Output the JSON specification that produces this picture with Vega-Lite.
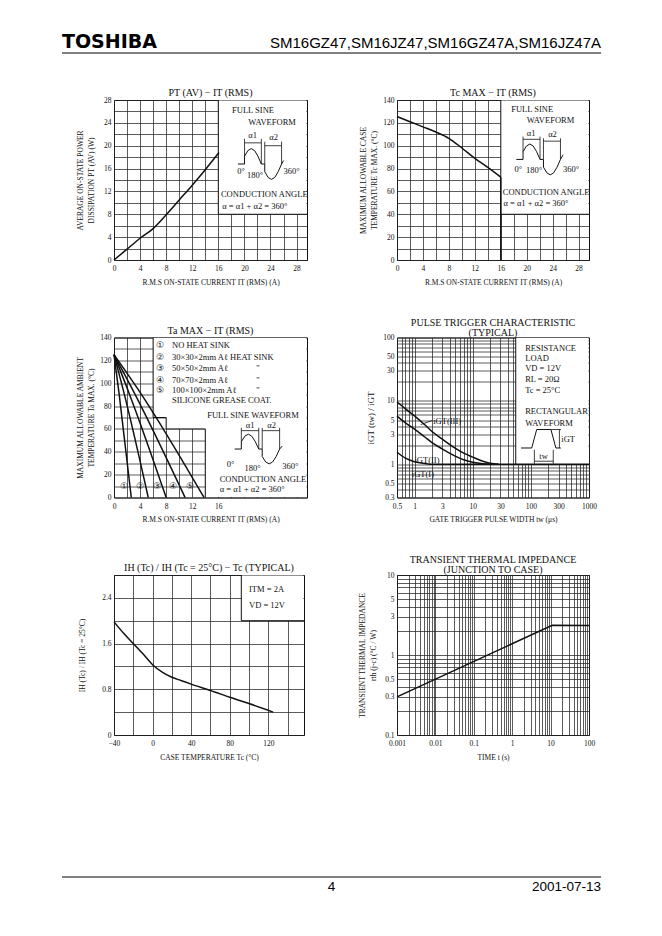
{
"$schema": "https://vega.github.io/schema/vega-lite/v6.json",
"background": "white",
"padding": {"left": 61, "top": 31, "right": 5, "bottom": 5},
"autosize": {"type": "pad"},
"config": {
 "font": "Liberation Serif",
 "view": {"stroke": "#111", "strokeWidth": 1},
 "axis": {"grid": true, "gridColor": "#262626", "gridWidth": 0.75, "ticks": false, "domain": false, "labelFont": "Liberation Serif", "labelFontSize": 7.5, "labelColor": "#111", "labelPadding": 3, "labelFlush": false, "labelOverlap": false, "titleFont": "Liberation Serif", "titleFontSize": 7.5, "titleFontWeight": "normal", "titleColor": "#111", "titleLineHeight": 11},
 "axisX": {"titlePadding": 6, "labelPadding": 4.5},
 "axisY": {"titlePadding": 7},
 "title": {"font": "Liberation Serif", "fontSize": 10, "fontWeight": "normal", "color": "#111", "offset": -2, "anchor": "middle", "lineHeight": 10},
 "text": {"font": "Liberation Serif", "fontSize": 8.5, "align": "left", "baseline": "middle", "color": "#111"},
 "line": {"color": "#111", "strokeWidth": 1.3},
 "rule": {"color": "#111", "strokeWidth": 0.8},
 "rect": {"color": "white"}
},
"datasets": {
 "c1box": [{"x":16,"x2":29.5,"y":8,"y2":27.9}],
 "c1edge": [{"x":16,"y":28},{"x":16,"y":8},{"x":29.6,"y":8}],
 "c1curve": [{"x":0,"y":0},{"x":2,"y":1.9},{"x":4,"y":3.8},{"x":6,"y":5.5},{"x":8,"y":7.9},{"x":10,"y":10.5},{"x":12,"y":13.1},{"x":14,"y":15.8},{"x":16.1,"y":18.8}],
 "c1wave": [{"x":19.0,"y":16.8},{"x":20.02,"y":16.8},{"x":20.02,"y":18.15},{"x":20.53,"y":19.14},{"x":21.05,"y":19.5},{"x":21.57,"y":19.14},{"x":22.08,"y":18.15},{"x":22.6,"y":16.8},{"x":23.12,"y":16.8},{"x":23.12,"y":15.45},{"x":23.63,"y":14.46},{"x":24.15,"y":14.1},{"x":24.67,"y":14.46},{"x":25.18,"y":15.45},{"x":25.7,"y":16.8},{"x":26.0,"y":17.4}],
 "c1rules": [{"x":20.02,"y":18.15,"x2":20.02,"y2":21.2},{"x":22.6,"y":16.8,"x2":22.6,"y2":21.2},{"x":20.02,"y":20.5,"x2":22.6,"y2":20.5},{"x":23.12,"y":16.8,"x2":23.12,"y2":20.7},{"x":25.7,"y":16.8,"x2":25.7,"y2":20.7},{"x":23.12,"y":20.0,"x2":25.7,"y2":20.0}],
 "c1text": [{"x":18.1,"y":26.3,"t":"FULL SINE"},{"x":20.6,"y":24.2,"t":"WAVEFORM"},{"x":20.6,"y":21.9,"t":"α1"},{"x":23.8,"y":21.5,"t":"α2"},{"x":18.9,"y":15.6,"t":"0°"},{"x":20.4,"y":14.9,"t":"180°"},{"x":26.0,"y":15.6,"t":"360°"},{"x":16.4,"y":11.6,"t":"CONDUCTION ANGLE"},{"x":16.6,"y":9.5,"t":"α = α1 + α2 = 360°"}],
 "c2box": [{"x":16,"x2":29.5,"y":40,"y2":139.5}],
 "c2edge": [{"x":16,"y":140},{"x":16,"y":40},{"x":29.6,"y":40}],
 "c2curve": [{"x":0,"y":125.5},{"x":2,"y":121},{"x":4,"y":116.5},{"x":6,"y":112},{"x":8,"y":106.5},{"x":10,"y":98},{"x":12,"y":89},{"x":14,"y":81},{"x":16,"y":72.5}],
 "c2limit": [{"x":16,"y":0,"x2":16,"y2":72.5}],
 "c2wave": [{"x":18.4,"y":88},{"x":19.43,"y":88},{"x":19.43,"y":94.75},{"x":19.95,"y":99.7},{"x":20.48,"y":101.5},{"x":21.0,"y":99.7},{"x":21.53,"y":94.75},{"x":22.05,"y":88},{"x":22.58,"y":88},{"x":22.58,"y":81.25},{"x":23.1,"y":76.3},{"x":23.63,"y":74.5},{"x":24.15,"y":76.3},{"x":24.68,"y":81.25},{"x":25.2,"y":88},{"x":25.6,"y":92}],
 "c2rules": [{"x":19.43,"y":94.75,"x2":19.43,"y2":108},{"x":22.05,"y":88,"x2":22.05,"y2":108},{"x":19.43,"y":105.6,"x2":22.05,"y2":105.6},{"x":22.58,"y":88,"x2":22.58,"y2":106.5},{"x":25.2,"y":88,"x2":25.2,"y2":106.5},{"x":22.58,"y":104,"x2":25.2,"y2":104}],
 "c2text": [{"x":17.6,"y":132.4,"t":"FULL SINE"},{"x":20.0,"y":122.5,"t":"WAVEFORM"},{"x":20.0,"y":111,"t":"α1"},{"x":23.3,"y":110,"t":"α2"},{"x":18.1,"y":80,"t":"0°"},{"x":19.9,"y":79,"t":"180°"},{"x":25.6,"y":80,"t":"360°"},{"x":16.3,"y":59.7,"t":"CONDUCTION ANGLE"},{"x":16.4,"y":50.3,"t":"α = α1 + α2 = 360°"}],
 "c3box": [{"x":6,"x2":29.5,"y":70,"y2":139.5},{"x":8,"x2":29.5,"y":60,"y2":71},{"x":14,"x2":29.5,"y":0.5,"y2":61}],
 "c3edge": [{"x":6,"y":140},{"x":6,"y":70},{"x":8,"y":70},{"x":8,"y":60},{"x":14,"y":60},{"x":14,"y":0}],
 "c3curves": [
  {"s":1,"x":0,"y":125},{"s":1,"x":0.8,"y":90},{"s":1,"x":2.65,"y":0},
  {"s":2,"x":0,"y":125},{"s":2,"x":1.6,"y":90},{"s":2,"x":5.25,"y":0},
  {"s":3,"x":0,"y":125},{"s":3,"x":2.4,"y":90},{"s":3,"x":8.0,"y":0},
  {"s":4,"x":0,"y":125},{"s":4,"x":3.25,"y":90},{"s":4,"x":10.9,"y":0},
  {"s":5,"x":0,"y":125},{"s":5,"x":4.0,"y":92},{"s":5,"x":13.8,"y":0}],
 "c3wave": [{"x":18.5,"y":42.4},{"x":19.53,"y":42.4},{"x":19.53,"y":48.9},{"x":20.07,"y":53.7},{"x":20.6,"y":55.4},{"x":21.13,"y":53.7},{"x":21.67,"y":48.9},{"x":22.2,"y":42.4},{"x":22.73,"y":42.4},{"x":22.73,"y":35.9},{"x":23.27,"y":31.1},{"x":23.8,"y":29.4},{"x":24.33,"y":31.1},{"x":24.87,"y":35.9},{"x":25.4,"y":42.4},{"x":25.8,"y":45}],
 "c3rules": [{"x":19.53,"y":48.9,"x2":19.53,"y2":61},{"x":22.2,"y":42.4,"x2":22.2,"y2":61},{"x":19.53,"y":58.5,"x2":22.2,"y2":58.5},{"x":22.73,"y":42.4,"x2":22.73,"y2":61},{"x":25.4,"y":42.4,"x2":25.4,"y2":61},{"x":22.73,"y":58.5,"x2":25.4,"y2":58.5}],
 "c3text": [{"x":14.3,"y":72.5,"t":"FULL SINE WAVEFORM"},{"x":20.2,"y":63.5,"t":"α1"},{"x":23.5,"y":63.5,"t":"α2"},{"x":17.3,"y":29.2,"t":"0°"},{"x":20.0,"y":26.2,"t":"180°"},{"x":25.8,"y":27.5,"t":"360°"},{"x":16.2,"y":16.4,"t":"CONDUCTION ANGLE"},{"x":16.2,"y":7.6,"t":"α = α1 + α2 = 360°"},
  {"x":6.5,"y":133.6,"t":"①"},{"x":8.9,"y":133.6,"t":"NO HEAT SINK"},
  {"x":6.5,"y":123.3,"t":"②"},{"x":8.9,"y":123.3,"t":"30×30×2mm Aℓ HEAT SINK"},
  {"x":6.5,"y":113.6,"t":"③"},{"x":8.9,"y":113.6,"t":"50×50×2mm Aℓ"},{"x":21.8,"y":113.6,"t":"\""},
  {"x":6.5,"y":103.1,"t":"④"},{"x":8.9,"y":103.1,"t":"70×70×2mm Aℓ"},{"x":21.8,"y":103.1,"t":"\""},
  {"x":6.5,"y":93.7,"t":"⑤"},{"x":8.9,"y":93.7,"t":"100×100×2mm Aℓ"},{"x":21.8,"y":93.7,"t":"\""},
  {"x":8.9,"y":84.9,"t":"SILICONE GREASE COAT."},
  {"x":0.9,"y":9.7,"t":"①"},{"x":3.4,"y":9.7,"t":"②"},{"x":6.0,"y":9.7,"t":"③"},{"x":8.45,"y":9.7,"t":"④"},{"x":11.05,"y":9.7,"t":"⑤"}],
 "c4box": [{"x":55,"x2":977,"y":1,"y2":98}],
 "c4edge": [{"x":55,"y":100},{"x":55,"y":1}],
 "c4curves": [
  {"s":"III","x":0.5,"y":9.7},{"s":"III","x":0.7,"y":7.5},{"s":"III","x":1,"y":5.8},{"s":"III","x":1.5,"y":4.2},{"s":"III","x":2,"y":3.3},{"s":"III","x":3,"y":2.5},{"s":"III","x":5,"y":1.8},{"s":"III","x":7,"y":1.5},{"s":"III","x":10,"y":1.3},{"s":"III","x":15,"y":1.12},{"s":"III","x":20,"y":1.04},{"s":"III","x":28,"y":1.0},
  {"s":"II","x":0.5,"y":5.75},{"s":"II","x":0.7,"y":4.5},{"s":"II","x":1,"y":3.6},{"s":"II","x":1.5,"y":2.7},{"s":"II","x":2,"y":2.2},{"s":"II","x":3,"y":1.75},{"s":"II","x":5,"y":1.35},{"s":"II","x":7,"y":1.18},{"s":"II","x":10,"y":1.08},{"s":"II","x":15,"y":1.02},{"s":"II","x":20,"y":1.0},
  {"s":"I","x":0.5,"y":1.55},{"s":"I","x":0.7,"y":1.25},{"s":"I","x":1,"y":1.1},{"s":"I","x":1.5,"y":1.03},{"s":"I","x":2,"y":1.0},{"s":"I","x":1000,"y":1.0}],
 "c4wave": [{"x":68,"y":1.81},{"x":103.6,"y":1.81},{"x":126,"y":3.54},{"x":221.6,"y":3.54},{"x":269.5,"y":1.81},{"x":328,"y":1.81}],
 "c4rules": [{"x":115,"y":1.02,"x2":115,"y2":1.7},{"x":243,"y":1.02,"x2":243,"y2":1.7},{"x":115,"y":1.12,"x2":243,"y2":1.12},{"x":221.6,"y":3.54,"x2":330,"y2":3.54},{"x":310,"y":1.81,"x2":310,"y2":3.54},{"x":1.28,"y":4.24,"x2":2.0,"y2":4.9}],
 "c4text": [{"x":80,"y":69,"t":"RESISTANCE"},{"x":80,"y":48,"t":"LOAD"},{"x":80,"y":33.5,"t":"VD = 12V"},{"x":80,"y":21.9,"t":"RL = 20Ω"},{"x":80,"y":14.7,"t":"Tc = 25°C"},{"x":80,"y":6.9,"t":"RECTANGULAR"},{"x":80,"y":4.5,"t":"WAVEFORM"},{"x":140,"y":1.34,"t":"tw"},{"x":335,"y":2.5,"t":"iGT"},{"x":2.1,"y":4.9,"t":"iGT(III)"},{"x":1.0,"y":1.16,"t":"iGT(II)"},{"x":0.9,"y":0.71,"t":"iGT(I)"}],
 "c5box": [{"x":92,"x2":156.3,"y":2.0,"y2":2.79}],
 "c5edge": [{"x":92,"y":2.8},{"x":92,"y":2.0},{"x":157,"y":2.0}],
 "c5curve": [{"x":-40,"y":1.98},{"x":-30,"y":1.78},{"x":-20,"y":1.6},{"x":-10,"y":1.42},{"x":0,"y":1.23},{"x":10,"y":1.1},{"x":20,"y":1.01},{"x":30,"y":0.95},{"x":40,"y":0.89},{"x":60,"y":0.78},{"x":80,"y":0.66},{"x":100,"y":0.55},{"x":125,"y":0.4}],
 "c5text": [{"x":100,"y":2.56,"t":"ITM = 2A"},{"x":100,"y":2.27,"t":"VD = 12V"}],
 "c6curve": [{"x":0.001,"y":0.3},{"x":11,"y":2.35},{"x":100,"y":2.33}]
},
"spacing": 115,
"vconcat": [
 {"spacing": 33, "vconcat": [
  {"width": 539, "height": 22, "view": {"stroke": null},
   "data": {"values": [{"brand": "TOSHIBA", "model": "SM16GZ47,SM16JZ47,SM16GZ47A,SM16JZ47A"}]},
   "layer": [
    {"mark": {"type": "text", "align": "left", "baseline": "alphabetic", "font": "DejaVu Sans", "fontWeight": "bold", "fontSize": 19, "color": "black"},
     "encoding": {"x": {"datum": 0, "type": "quantitative", "scale": {"domain": [0, 1]}, "axis": null}, "y": {"datum": 0.25, "type": "quantitative", "scale": {"domain": [0, 1]}, "axis": null}, "text": {"field": "brand"}}},
    {"mark": {"type": "text", "align": "right", "baseline": "alphabetic", "font": "Liberation Sans", "fontSize": 15, "color": "black"},
     "encoding": {"x": {"datum": 1, "type": "quantitative"}, "y": {"datum": 0.25, "type": "quantitative"}, "text": {"field": "model"}}},
    {"mark": {"type": "rule", "color": "black", "strokeWidth": 1},
     "encoding": {"x": {"datum": 0, "type": "quantitative"}, "x2": {"datum": 1}, "y": {"datum": 0, "type": "quantitative"}}}
   ]},
  {"spacing": 0, "hconcat": [
   {"width": 13, "height": 1, "view": {"stroke": null}, "data": {"values": [{"gap": 1}]},
    "mark": {"type": "rule", "color": "white", "strokeWidth": 0.5},
    "encoding": {"x": {"datum": 0, "type": "quantitative", "scale": {"domain": [0, 1]}, "axis": null}, "x2": {"datum": 1}, "y": {"datum": 0, "type": "quantitative", "scale": {"domain": [0, 1]}, "axis": null}}},
   {"bounds": "flush", "columns": 2, "spacing": {"row": 77.5, "column": 90}, "concat": [
    {"width": 193, "height": 160, "title": "PT (AV)  −  IT (RMS)",
     "encoding": {
      "x": {"field": "x", "type": "quantitative", "scale": {"domain": [0, 29.6], "nice": false, "zero": false}, "axis": {"values": [0,2,4,6,8,10,12,14,16,18,20,22,24,26,28], "format": ".0f", "labelExpr": "datum.value % 4 === 0 ? datum.label : ''", "title": "R.M.S ON-STATE CURRENT   IT (RMS)   (A)"}},
      "y": {"field": "y", "type": "quantitative", "scale": {"domain": [0, 28], "nice": false, "zero": false}, "axis": {"values": [0,2,4,6,8,10,12,14,16,18,20,22,24,26,28], "format": ".0f", "labelExpr": "datum.value % 4 === 0 ? datum.label : ''", "titlePadding": 8, "title": ["AVERAGE ON-STATE POWER", "DISSIPATION   PT (AV)   (W)"]}}
     },
     "layer": [
      {"data": {"name": "c1box"}, "mark": {"type": "rect", "fill": "white"}, "encoding": {"x2": {"field": "x2"}, "y2": {"field": "y2"}}},
      {"data": {"name": "c1edge"}, "mark": {"type": "line", "strokeWidth": 1}, "encoding": {"order": {"value": null}}},
      {"data": {"name": "c1curve"}, "mark": {"type": "line", "interpolate": "monotone", "strokeWidth": 1.5}},
      {"data": {"name": "c1wave"}, "mark": {"type": "line", "strokeWidth": 1}, "encoding": {"order": {"value": null}}},
      {"data": {"name": "c1rules"}, "mark": {"type": "rule"}, "encoding": {"x2": {"field": "x2"}, "y2": {"field": "y2"}}},
      {"data": {"name": "c1text"}, "mark": {"type": "text"}, "encoding": {"text": {"field": "t"}}}
     ]},
    {"width": 192, "height": 160, "title": "Tc MAX  −  IT (RMS)",
     "encoding": {
      "x": {"field": "x", "type": "quantitative", "scale": {"domain": [0, 29.6], "nice": false, "zero": false}, "axis": {"values": [0,2,4,6,8,10,12,14,16,18,20,22,24,26,28], "format": ".0f", "labelExpr": "datum.value % 4 === 0 ? datum.label : ''", "title": "R.M.S ON-STATE CURRENT   IT (RMS)   (A)"}},
      "y": {"field": "y", "type": "quantitative", "scale": {"domain": [0, 140], "nice": false, "zero": false}, "axis": {"values": [0,10,20,30,40,50,60,70,80,90,100,110,120,130,140], "format": ".0f", "labelExpr": "datum.value % 20 === 0 ? datum.label : ''", "titlePadding": 4, "title": ["MAXIMUM ALLOWABLE CASE", "TEMPERATURE   Tc MAX.   (°C)"]}}
     },
     "layer": [
      {"data": {"name": "c2box"}, "mark": {"type": "rect", "fill": "white"}, "encoding": {"x2": {"field": "x2"}, "y2": {"field": "y2"}}},
      {"data": {"name": "c2edge"}, "mark": {"type": "line", "strokeWidth": 1}, "encoding": {"order": {"value": null}}},
      {"data": {"name": "c2curve"}, "mark": {"type": "line", "interpolate": "monotone", "strokeWidth": 1.5}},
      {"data": {"name": "c2limit"}, "mark": {"type": "rule", "strokeWidth": 1.5}, "encoding": {"x2": {"field": "x2"}, "y2": {"field": "y2"}}},
      {"data": {"name": "c2wave"}, "mark": {"type": "line", "strokeWidth": 1}, "encoding": {"order": {"value": null}}},
      {"data": {"name": "c2rules"}, "mark": {"type": "rule"}, "encoding": {"x2": {"field": "x2"}, "y2": {"field": "y2"}}},
      {"data": {"name": "c2text"}, "mark": {"type": "text"}, "encoding": {"text": {"field": "t"}}}
     ]},
    {"width": 193, "height": 160, "title": "Ta MAX  −  IT (RMS)",
     "encoding": {
      "x": {"field": "x", "type": "quantitative", "scale": {"domain": [0, 29.6], "nice": false, "zero": false}, "axis": {"values": [0,2,4,6,8,10,12,14,16,18,20,22,24,26,28], "format": ".0f", "labelExpr": "datum.value % 4 === 0 && datum.value <= 16 ? datum.label : ''", "title": "R.M.S ON-STATE CURRENT   IT (RMS)   (A)"}},
      "y": {"field": "y", "type": "quantitative", "scale": {"domain": [0, 140], "nice": false, "zero": false}, "axis": {"values": [0,10,20,30,40,50,60,70,80,90,100,110,120,130,140], "format": ".0f", "labelExpr": "datum.value % 20 === 0 ? datum.label : ''", "titlePadding": 4, "title": ["MAXIMUM ALLOWABLE AMBIENT", "TEMPERATURE   Ta MAX.   (°C)"]}}
     },
     "layer": [
      {"data": {"name": "c3box"}, "mark": {"type": "rect", "fill": "white"}, "encoding": {"x2": {"field": "x2"}, "y2": {"field": "y2"}}},
      {"data": {"name": "c3edge"}, "mark": {"type": "line", "strokeWidth": 1}, "encoding": {"order": {"value": null}}},
      {"data": {"name": "c3curves"}, "mark": {"type": "line", "interpolate": "monotone", "strokeWidth": 1.5}, "encoding": {"detail": {"field": "s"}}},
      {"data": {"name": "c3wave"}, "mark": {"type": "line", "strokeWidth": 1}, "encoding": {"order": {"value": null}}},
      {"data": {"name": "c3rules"}, "mark": {"type": "rule"}, "encoding": {"x2": {"field": "x2"}, "y2": {"field": "y2"}}},
      {"data": {"name": "c3text"}, "mark": {"type": "text"}, "encoding": {"text": {"field": "t"}}}
     ]},
    {"width": 192, "height": 160, "title": {"text": ["PULSE TRIGGER CHARACTERISTIC", "(TYPICAL)"], "offset": -4},
     "encoding": {
      "x": {"field": "x", "type": "quantitative", "scale": {"type": "log", "domain": [0.5, 1000], "nice": false}, "axis": {"values": [0.5,0.6,0.7,0.8,0.9,1,2,3,4,5,6,7,8,9,10,20,30,40,50,60,70,80,90,100,200,300,400,500,600,700,800,900,1000], "format": "~g", "labelExpr": "indexof([0.5,1,3,10,30,100,300,1000], datum.value) >= 0 ? datum.label : ''", "title": "GATE TRIGGER PULSE WIDTH   tw   (μs)"}},
      "y": {"field": "y", "type": "quantitative", "scale": {"type": "log", "domain": [0.3, 100], "nice": false}, "axis": {"values": [0.3,0.4,0.5,0.6,0.7,0.8,0.9,1,2,3,4,5,6,7,8,9,10,20,30,40,50,60,70,80,90,100], "format": "~g", "labelExpr": "indexof([0.3,0.5,1,3,5,10,30,50,100], datum.value) >= 0 ? datum.label : ''", "title": "iGT (tw) / iGT", "titleFontSize": 9}}
     },
     "layer": [
      {"data": {"name": "c4box"}, "mark": {"type": "rect", "fill": "white"}, "encoding": {"x2": {"field": "x2"}, "y2": {"field": "y2"}}},
      {"data": {"name": "c4edge"}, "mark": {"type": "line", "strokeWidth": 1}, "encoding": {"order": {"value": null}}},
      {"data": {"name": "c4curves"}, "mark": {"type": "line", "interpolate": "monotone", "strokeWidth": 1.5}, "encoding": {"detail": {"field": "s"}}},
      {"data": {"name": "c4wave"}, "mark": {"type": "line", "strokeWidth": 1}, "encoding": {"order": {"value": null}}},
      {"data": {"name": "c4rules"}, "mark": {"type": "rule"}, "encoding": {"x2": {"field": "x2"}, "y2": {"field": "y2"}}},
      {"data": {"name": "c4text"}, "mark": {"type": "text"}, "encoding": {"text": {"field": "t"}}}
     ]},
    {"width": 190, "height": 160, "title": "IH (Tc) / IH (Tc = 25°C)  −  Tc (TYPICAL)",
     "encoding": {
      "x": {"field": "x", "type": "quantitative", "scale": {"domain": [-40, 157], "nice": false, "zero": false}, "axis": {"values": [-40,-20,0,20,40,60,80,100,120,140], "format": ".0f", "labelExpr": "datum.value % 40 === 0 ? datum.label : ''", "title": "CASE TEMPERATURE   Tc   (°C)"}},
      "y": {"field": "y", "type": "quantitative", "scale": {"domain": [0, 2.8], "nice": false, "zero": false}, "axis": {"values": [0,0.4,0.8,1.2,1.6,2,2.4,2.8], "format": ".1~f", "labelExpr": "indexof([0,0.8,1.6,2.4], datum.value) >= 0 ? datum.label : ''", "titlePadding": 15, "title": "IH (Tc) / IH (Tc = 25°C)"}}
     },
     "layer": [
      {"data": {"name": "c5box"}, "mark": {"type": "rect", "fill": "white"}, "encoding": {"x2": {"field": "x2"}, "y2": {"field": "y2"}}},
      {"data": {"name": "c5edge"}, "mark": {"type": "line", "strokeWidth": 1}, "encoding": {"order": {"value": null}}},
      {"data": {"name": "c5curve"}, "mark": {"type": "line", "interpolate": "monotone", "strokeWidth": 1.5}},
      {"data": {"name": "c5text"}, "mark": {"type": "text"}, "encoding": {"text": {"field": "t"}}}
     ]},
    {"width": 192, "height": 160, "title": {"text": ["TRANSIENT THERMAL IMPEDANCE", "(JUNCTION TO CASE)"], "offset": -4},
     "encoding": {
      "x": {"field": "x", "type": "quantitative", "scale": {"type": "log", "domain": [0.001, 100], "nice": false}, "axis": {"values": [0.001,0.002,0.003,0.004,0.005,0.006,0.007,0.008,0.009,0.01,0.02,0.03,0.04,0.05,0.06,0.07,0.08,0.09,0.1,0.2,0.3,0.4,0.5,0.6,0.7,0.8,0.9,1,2,3,4,5,6,7,8,9,10,20,30,40,50,60,70,80,90,100], "format": "~g", "labelExpr": "indexof([0.001,0.01,0.1,1,10,100], datum.value) >= 0 ? datum.label : ''", "title": "TIME   t   (s)"}},
      "y": {"field": "y", "type": "quantitative", "scale": {"type": "log", "domain": [0.1, 10], "nice": false}, "axis": {"values": [0.1,0.2,0.3,0.4,0.5,0.6,0.7,0.8,0.9,1,2,3,4,5,6,7,8,9,10], "format": "~g", "labelExpr": "indexof([0.1,0.3,0.5,1,3,5,10], datum.value) >= 0 ? datum.label : ''", "title": ["TRANSIENT THERMAL IMPEDANCE", "rth (j-c)   (°C / W)"]}}
     },
     "layer": [
      {"data": {"name": "c6curve"}, "mark": {"type": "line", "strokeWidth": 1.5}}
     ]}
   ]}
  ]}
 ]},
 {"width": 539, "height": 20, "view": {"stroke": null},
  "data": {"values": [{"page": "4", "date": "2001-07-13"}]},
  "layer": [
   {"mark": {"type": "rule", "color": "black", "strokeWidth": 1},
    "encoding": {"x": {"datum": 0, "type": "quantitative", "scale": {"domain": [0, 1]}, "axis": null}, "x2": {"datum": 1}, "y": {"datum": 1, "type": "quantitative", "scale": {"domain": [0, 1]}, "axis": null}}},
   {"mark": {"type": "text", "align": "center", "baseline": "alphabetic", "font": "Liberation Sans", "fontSize": 13.5, "color": "black"},
    "encoding": {"x": {"datum": 0.5, "type": "quantitative"}, "y": {"datum": 0.3, "type": "quantitative"}, "text": {"field": "page"}}},
   {"mark": {"type": "text", "align": "right", "baseline": "alphabetic", "font": "Liberation Sans", "fontSize": 13.5, "color": "black"},
    "encoding": {"x": {"datum": 1, "type": "quantitative"}, "y": {"datum": 0.3, "type": "quantitative"}, "text": {"field": "date"}}}
  ]}
]
}
